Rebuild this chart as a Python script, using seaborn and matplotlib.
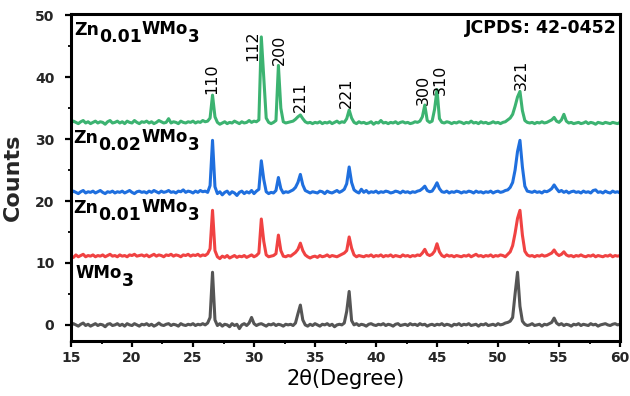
import numpy as np
import pandas as pd
import matplotlib
matplotlib.use("Agg")
import matplotlib.pyplot as plt
from matplotlib.ticker import MultipleLocator
import seaborn as sns

# ---------------- data ----------------
two_theta = np.round(np.linspace(15.0, 60.0, 226), 1)  # 0.2 deg step

wmo3 = [
    -0.1, 0.2, 0.0, -0.2, 0.1, 0.3, -0.1, 0.1, -0.2, 0.0,
    0.2, -0.1, 0.1, 0.0, -0.3, 0.1, 0.2, -0.1, 0.0, 0.2,
    -0.1, 0.1, -0.2, 0.2, 0.0, -0.1, 0.2, 0.0, -0.2, 0.1,
    0.0, 0.2, -0.1, 0.1, -0.2, 0.0, 0.3, 0.0, -0.1, 0.1,
    0.2, -0.1, 0.1, 0.0, -0.2, 0.2, 0.0, -0.1, 0.1, 0.0,
    0.2, -0.1, 0.1, 0.0, 0.2, 0.0, 0.3, 1.2, 8.5, 0.8,
    -0.1, 0.2, -0.2, 0.1, 0.0, -0.3, 0.2, -0.1, 0.1, -0.6,
    0.0, 0.2, -0.1, 0.3, 1.2, 0.2, -0.1, 0.1, 0.2, 0.0,
    -0.2, 0.1, 0.0, 0.2, -0.1, 0.1, 0.0, -0.2, 0.1, 0.0,
    0.1, -0.1, 0.3, 1.8, 3.2, 0.8, 0.0, -0.2, 0.1, -0.1,
    0.2, 0.0, -0.2, 0.1, 0.0, 0.2, -0.1, 0.1, -0.3, 0.0,
    0.1, 0.0, 0.3, 2.2, 5.4, 0.7, 0.0, 0.2, -0.1, 0.1,
    0.0, -0.2, 0.1, 0.2, 0.0, -0.1, 0.1, 0.0, 0.2, -0.1,
    0.1, 0.0, -0.2, 0.1, 0.2, -0.1, 0.0, 0.1, -0.1, 0.2,
    0.0, 0.1, -0.1, 0.2, 0.0, 0.1, -0.2, 0.0, 0.1, -0.1,
    0.1, 0.0, 0.2, -0.1, 0.1, 0.0, -0.2, 0.1, 0.0, 0.2,
    -0.1, 0.1, 0.0, 0.2, -0.1, 0.0, 0.1, -0.2, 0.1, 0.0,
    0.2, -0.1, 0.0, 0.1, -0.1, 0.2, 0.0, 0.1, 0.3, 0.4,
    0.6, 1.2, 5.0, 8.5, 3.0, 0.6, 0.1, -0.1, 0.0, 0.2,
    -0.1, 0.0, 0.1, -0.2, 0.1, 0.0, 0.2, 0.4, 1.1, 0.3,
    0.0, 0.2, -0.1, 0.1, 0.0, -0.2, 0.1, 0.0, 0.2, -0.1,
    0.1, 0.0, -0.1, 0.2, 0.0, 0.1, -0.2, 0.0, 0.1, 0.2,
    0.0, -0.1, 0.1, 0.2, 0.0, 0.1,
]

zn001_red = [
    11.1, 10.9, 11.3, 11.0, 11.2, 11.4, 11.0, 11.2, 11.1, 11.3,
    11.0, 11.2, 11.1, 11.3, 11.0, 11.2, 11.4, 11.1, 11.2, 11.0,
    11.3, 11.1, 11.2, 11.0, 11.3, 11.2, 11.4, 11.1, 11.2, 11.3,
    11.1, 11.3, 11.0, 11.2, 11.4, 11.1, 11.3, 11.2, 11.0, 11.3,
    11.2, 11.4, 11.1, 11.3, 11.2, 11.0, 11.3, 11.2, 11.4, 11.1,
    11.3, 11.2, 11.4, 11.1, 11.3, 11.2, 11.5, 12.3, 18.5, 12.0,
    11.0, 10.7, 11.1, 10.9, 11.2, 10.8, 11.0, 11.2, 10.9, 11.1,
    11.0, 11.2, 10.9, 11.1, 11.3, 11.0, 11.2, 11.6, 17.1, 13.5,
    11.3, 11.0, 11.1, 11.2, 11.5, 14.5, 12.0, 11.1, 11.0, 11.2,
    11.1, 11.4, 11.7, 12.2, 13.2, 12.0, 11.3, 11.0, 10.8, 11.0,
    11.1, 10.9, 11.2, 11.0, 11.1, 11.3, 11.0, 11.2, 11.1, 11.0,
    11.2, 11.4, 11.6, 12.0, 14.2, 12.4, 11.3, 11.0, 11.2, 11.1,
    11.0, 11.2, 11.1, 11.3, 11.0, 11.2, 11.1, 11.3, 11.0, 11.2,
    11.1, 11.3, 11.0, 11.2, 11.1, 11.0, 11.3, 11.1, 11.2, 11.0,
    11.2, 11.1, 11.3, 11.2, 11.6, 12.2, 11.4, 11.2, 11.4, 11.9,
    13.1, 11.8, 11.2, 11.0, 11.3, 11.1, 11.2, 11.0, 11.2, 11.1,
    11.0, 11.2, 11.1, 11.3, 11.0, 11.2, 11.4, 11.1, 11.2, 11.0,
    11.2, 11.1, 11.3, 11.0, 11.2, 11.1, 11.3, 11.2, 11.0, 11.4,
    11.8, 12.8, 14.8, 17.2, 18.5, 14.5, 11.9, 11.3, 11.1, 11.2,
    11.0, 11.2, 11.1, 11.3, 11.1, 11.2, 11.4, 11.6, 12.1, 11.5,
    11.2, 11.4, 11.8, 11.3, 11.1, 11.2, 11.0, 11.2, 11.1, 11.3,
    11.1, 11.0, 11.2, 11.1, 11.3, 11.0, 11.2, 11.1, 11.0, 11.2,
    11.1, 11.3, 11.0, 11.2, 11.1, 11.2,
]

zn002_blue = [
    21.3, 21.6, 21.4, 21.2, 21.5, 21.7, 21.3, 21.5, 21.4, 21.6,
    21.3, 21.5, 21.7, 21.4, 21.2, 21.5, 21.4, 21.6, 21.3, 21.5,
    21.4, 21.6, 21.3, 21.5, 21.7, 21.4, 21.2, 21.5, 21.6, 21.4,
    21.5, 21.3, 21.6, 21.4, 21.7, 21.5, 21.3, 21.6, 21.4, 21.5,
    21.7, 21.4, 21.5, 21.3, 21.6, 21.5, 21.8, 21.4, 21.6, 21.5,
    21.3, 21.6, 21.4, 21.7, 21.5, 21.6, 21.4, 22.5, 29.8, 22.3,
    21.2, 21.5, 21.0, 21.4, 21.6, 21.1, 21.5, 21.3, 20.9, 21.4,
    21.6, 21.2, 21.5, 21.3, 21.7, 21.2, 21.6, 21.9, 26.5, 23.5,
    21.5, 21.2, 21.4, 21.3, 21.7, 23.8, 22.0, 21.3, 21.5, 21.4,
    21.6, 21.8, 22.2, 23.0, 24.3, 22.6, 21.7, 21.5, 21.3, 21.5,
    21.4, 21.3, 21.6, 21.5, 21.2, 21.6, 21.4, 21.3, 21.5, 21.7,
    21.4, 21.6, 21.9, 22.8, 25.5, 23.0, 21.8, 21.5, 21.3, 21.9,
    21.4, 21.7, 21.3, 21.5, 21.4, 21.6, 21.3, 21.5, 21.4, 21.6,
    21.5, 21.3, 21.4, 21.6, 21.5, 21.3, 21.6, 21.4, 21.5, 21.3,
    21.5, 21.4, 21.6, 21.7, 22.0, 22.4, 21.7, 21.5, 21.6, 22.2,
    22.95, 22.0, 21.5, 21.4, 21.6, 21.3, 21.5, 21.4, 21.6, 21.5,
    21.3, 21.5, 21.4, 21.6, 21.5, 21.3, 21.6, 21.4, 21.5, 21.3,
    21.5, 21.4, 21.6, 21.3, 21.5, 21.6, 21.4, 21.5, 21.7, 21.8,
    22.2, 23.0, 25.0, 28.0, 29.8, 25.5, 22.4, 21.6, 21.5, 21.4,
    21.6, 21.4, 21.5, 21.3, 21.6, 21.5, 21.7, 22.0, 22.6, 22.0,
    21.5, 21.7, 21.4, 21.6, 21.3, 21.5, 21.6, 21.4, 21.5, 21.3,
    21.6, 21.4, 21.5, 21.3, 21.7, 21.8, 21.4, 21.5, 21.3, 21.6,
    21.4, 21.3, 21.6, 21.4, 21.5, 21.3,
]

zn001_green = [
    32.6, 32.9, 32.7, 32.5, 32.8, 33.0, 32.6, 32.8, 32.5, 32.7,
    32.9, 32.6, 32.8, 32.7, 32.4, 32.8, 33.0, 32.6, 32.7, 32.9,
    32.6, 32.8, 32.5, 32.9, 32.7, 32.6, 33.0, 32.7, 32.5, 32.8,
    32.7, 32.9, 32.6, 32.8, 32.5, 32.7, 33.0, 32.8, 32.6, 32.7,
    33.3, 32.6, 32.8, 32.7, 32.5, 32.9, 32.7, 32.6, 32.8, 32.7,
    32.9, 32.6, 32.8, 32.7, 33.0, 32.8, 32.9, 33.4, 37.1, 33.6,
    32.7, 32.4, 32.6, 32.8, 32.5, 32.7, 32.6, 32.9, 32.7, 32.5,
    32.8, 32.6, 32.7, 33.0, 32.7, 32.9, 32.8, 33.1, 46.5, 40.0,
    33.4, 32.7, 32.5, 32.7, 33.0, 41.9, 35.0, 32.8, 32.6, 32.7,
    32.8, 32.9, 33.2, 33.6, 33.9, 33.3, 32.8, 32.6, 32.7, 32.5,
    32.7, 32.6, 32.8, 32.5, 32.7, 32.6, 32.8, 32.5, 32.7, 32.9,
    32.6, 32.8, 32.7, 33.3, 34.7, 33.4, 32.7, 32.5, 32.8, 32.6,
    32.7, 32.5, 32.6, 32.8, 32.4, 32.7, 32.6, 33.0, 32.6, 32.7,
    32.5, 32.7, 32.6, 32.8, 32.5, 32.7, 32.8, 32.6, 32.7, 32.5,
    32.6, 32.8, 32.7, 32.9, 33.6, 35.5, 33.0, 32.7, 32.9, 34.8,
    38.0, 33.3, 32.7, 32.6, 32.8, 32.7, 32.5, 32.7, 32.6, 32.8,
    32.7, 32.5, 32.7, 32.6, 32.9, 32.6, 32.7, 32.5, 32.8, 32.6,
    32.7, 32.5, 32.6, 32.8, 32.6, 32.7, 32.5, 32.7, 32.8, 33.1,
    33.4, 34.0, 35.3, 36.8, 37.7, 34.6, 33.0, 32.7, 32.6, 32.7,
    32.5, 32.7, 32.6, 32.8, 32.6, 32.7, 32.9, 33.1, 33.5, 32.9,
    32.7, 33.1, 34.0, 32.9, 32.6, 32.7, 32.5, 32.6, 32.7, 32.5,
    32.6, 32.8, 32.5, 32.7, 32.6, 32.4, 32.7, 32.6, 32.5, 32.7,
    32.6, 32.5, 32.7, 32.6, 32.5, 32.7,
]

series_names = ["WMo3", "Zn0.01WMo3 (b)", "Zn0.02WMo3", "Zn0.01WMo3 (a)"]
series_colors = ["#555555", "#f04242", "#1f6fde", "#3cb371"]

peak_hkl = ["110", "112", "200", "211", "221", "300", "310", "321"]
peak_theta = [26.5, 29.9, 32.1, 33.8, 37.6, 43.85, 45.25, 51.95]
peak_label_y = [37.3, 42.6, 42.0, 34.4, 35.0, 35.5, 37.1, 38.0]

# ---------------- figure ----------------
sns.set_theme(style="white")
plt.rcParams["font.family"] = ["DejaVu Sans"]

fig = plt.figure(figsize=(6.3, 3.96), dpi=100)
ax = fig.add_axes([71 / 630, 1 - 341 / 396, (620 - 71) / 630, (341 - 14) / 396])

df = pd.concat([
    pd.DataFrame({"theta": two_theta, "counts": vals, "sample": name})
    for name, vals in zip(series_names, [wmo3, zn001_red, zn002_blue, zn001_green])
])
sns.lineplot(data=df, x="theta", y="counts", hue="sample",
             palette=dict(zip(series_names, series_colors)),
             hue_order=series_names, legend=False, linewidth=2.2,
             estimator=None, sort=False, ax=ax)

ax.set_xlim(15, 60)
ax.set_ylim(-2.6, 50.2)
ax.xaxis.set_major_locator(MultipleLocator(5))
ax.xaxis.set_minor_locator(MultipleLocator(2.5))
ax.yaxis.set_major_locator(MultipleLocator(10))
ax.yaxis.set_minor_locator(MultipleLocator(5))

for sp in ax.spines.values():
    sp.set_visible(True)
    sp.set_color("black")
    sp.set_linewidth(2.2)

ax.tick_params(which="major", direction="out", length=4, width=1.6,
               color="black", labelsize=10, pad=3)
ax.tick_params(which="minor", direction="out", length=2.5, width=1.3,
               color="black")
ax.tick_params(axis="y", which="major", pad=8)
ax.tick_params(bottom=True, left=True, which="both")
for lab in ax.get_xticklabels() + ax.get_yticklabels():
    lab.set_fontweight("bold")

ax.set_xlabel("2θ(Degree)", fontsize=15, color="black")
ax.xaxis.set_label_coords(0.5, -0.085)
ax.set_ylabel("")
fig.text(23 / 630, 0.552, "Counts", rotation=90, fontsize=16,
         fontweight="bold", ha="right", va="center")

# peak labels
for hkl, px, py in zip(peak_hkl, peak_theta, peak_label_y):
    ax.text(px, py, hkl, rotation=90, ha="center", va="bottom",
            fontsize=11.5, color="black")

ax.text(59.75, 49.4, "JCPDS: 42-0452", ha="right", va="top",
        fontsize=12.5, fontweight="bold", color="black")

# sample labels built from pieces (big subscripts as in the original)
fig.canvas.draw()
renderer = fig.canvas.get_renderer()


def rich_label(x, y, parts):
    off = 0.0
    for s, size, dy in parts:
        t = ax.annotate(s, xy=(x, y), xycoords="data", xytext=(off, dy),
                        textcoords="offset pixels", fontsize=size,
                        fontweight="bold", ha="left", va="baseline",
                        color="black")
        off += t.get_window_extent(renderer=renderer).width


zn_parts_01 = [("Zn", 12.5, 0), ("0.01", 12.5, -7), ("WMo", 12, 1), ("3", 12, -7)]
zn_parts_02 = [("Zn", 12.5, 0), ("0.02", 12.5, -7), ("WMo", 12, 1), ("3", 12, -7)]
rich_label(15.25, 46.8, zn_parts_01)
rich_label(15.2, 29.3, zn_parts_02)
rich_label(15.2, 18.0, zn_parts_01)
rich_label(15.35, 7.5, [("WMo", 12, 0), ("3", 12.5, -8)])

fig.savefig("out.png", dpi=100)
